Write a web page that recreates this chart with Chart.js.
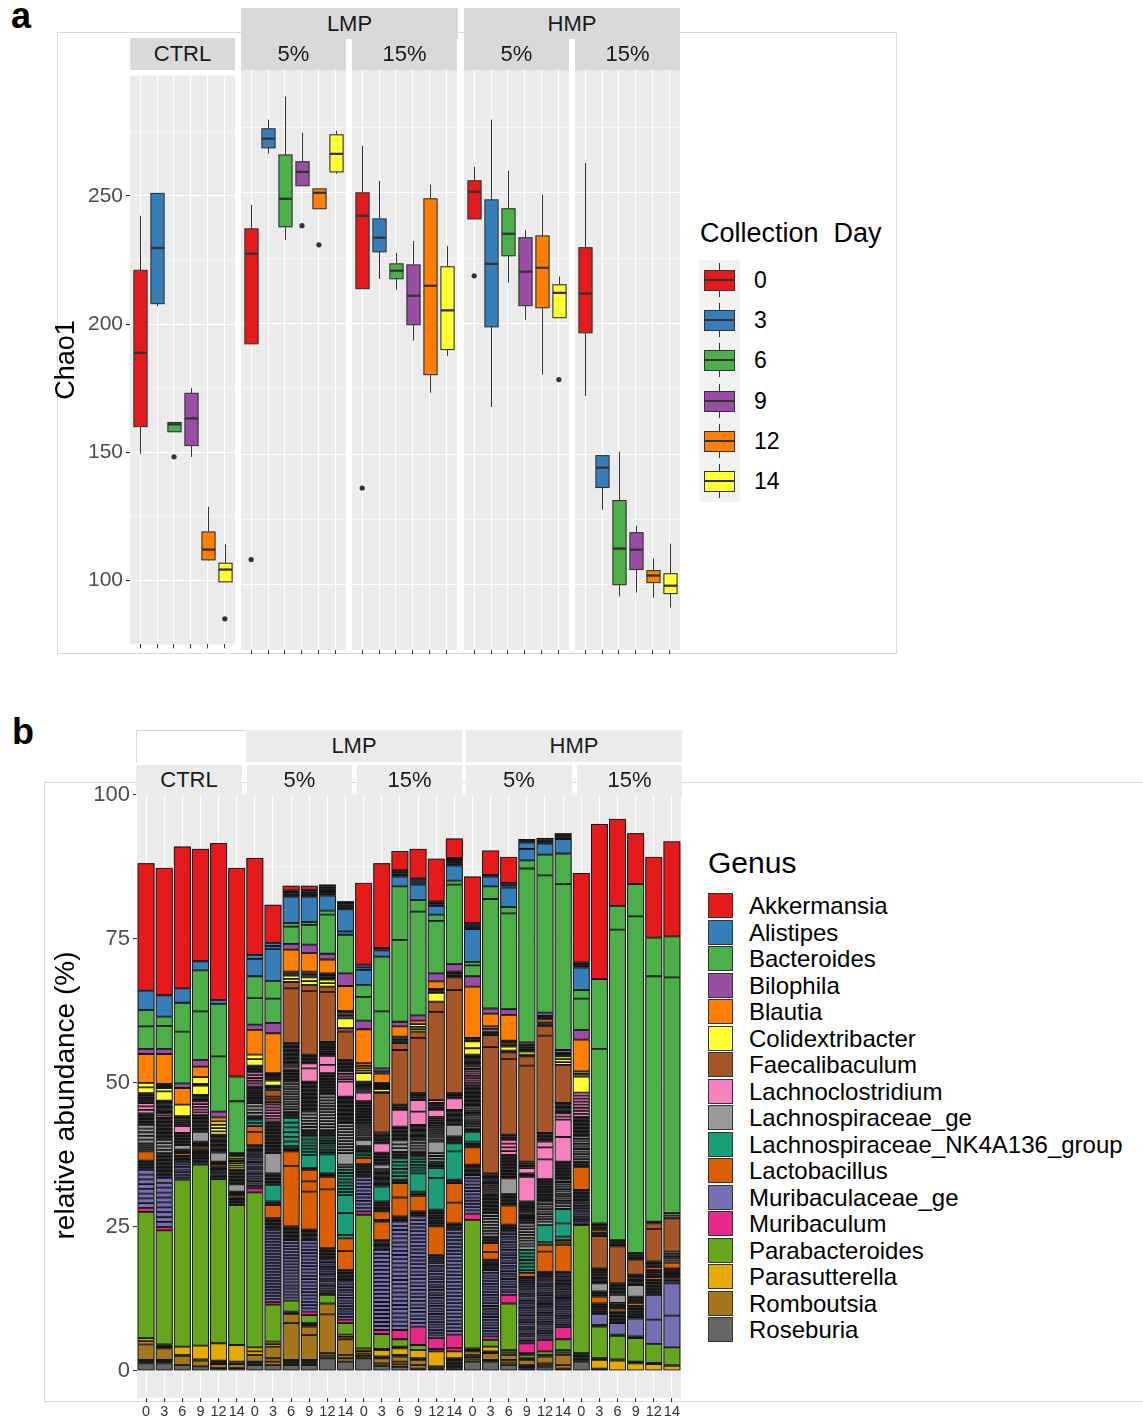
<!DOCTYPE html>
<html>
<head>
<meta charset="utf-8">
<script src="https://cdn.jsdelivr.net/npm/chart.js@4.4.1/dist/chart.umd.min.js"></script>
<style>
  body { margin: 0; background: #fff; width: 1143px; height: 1423px; position: relative; overflow: hidden;
         font-family: "Liberation Sans", Arial, sans-serif; }
  canvas { position: absolute; }
</style>
</head>
<body>
<script>
// ---------- data: panel a (Chao1 boxplots: [lower whisker, q1, median, q3, upper whisker]) ----------
const days = ['0', '3', '6', '9', '12', '14'];
const dayColors = ['#E41A1C', '#377EB8', '#4DAF4A', '#984EA3', '#FF7F00', '#FFFF33'];

const ctrlChao = [[149.4, 160, 188.8, 221, 242.3], [207, 208, 229.7, 251, 251], [158, 158, 160.9, 161.6, 161.6],
                  [148.2, 152.6, 163.2, 173, 175], [107.7, 108, 112, 118.9, 128.7], [99.4, 99.4, 104.2, 106.7, 114]];
const lmp5Chao = [[192.2, 192.2, 226.7, 236.2, 245.4], [265, 267.2, 270.7, 274.5, 278], [232, 237, 247.7, 264.5, 286.8],
                  [252.7, 252.7, 258, 261.9, 273], [243.9, 243.9, 250, 251.5, 251.5], [257.3, 258, 264.9, 272.2, 273.7]];
const lmp15Chao = [[213.3, 213.3, 241.2, 250, 268], [217, 227.4, 232.8, 240, 254.6], [212.9, 217.1, 220.2, 222.8, 227],
                   [193.4, 199.5, 210.6, 222.4, 231.6], [173.5, 180.4, 214.4, 247.7, 253.1], [187.6, 190, 205, 221.7, 229.7]];
const hmp5Chao = [[240, 240, 250.4, 254.6, 260], [168, 198.7, 222.8, 247.3, 278], [215.6, 225.9, 234.3, 243.9, 258.4],
                  [201.4, 206.8, 219.8, 232.8, 235.8], [180.4, 206, 221.3, 233.5, 249.2], [202.2, 202.2, 211.7, 214.8, 217.9]];
const hmp15Chao = [[172.3, 196.4, 211.4, 229, 261.5], [128.7, 137.2, 144.8, 149.4, 149.4], [95.5, 100, 113.8, 132.2, 150.9],
                   [97, 105.8, 113.4, 119.9, 122.6], [95, 100.8, 103.5, 105.4, 110], [91.2, 96.6, 99.6, 104.2, 115.7]];
// outliers: [day index, value]
const ctrlOut = [[2, 148.2], [5, 85]];
const lmp5Out = [[0, 109.6], [3, 237.4], [4, 230.1]];
const lmp15Out = [[0, 137]];
const hmp5Out = [[0, 218.2], [5, 178.5]];
const hmp15Out = [];
const chaoTicks = [100, 125, 150, 175, 200, 225, 250, 275];

// ---------- data: panel b (relative abundance, stacked) ----------
const genera = ['Akkermansia', 'Alistipes', 'Bacteroides', 'Bilophila', 'Blautia', 'Colidextribacter', 'Faecalibaculum',
  'Lachnoclostridium', 'Lachnospiraceae_ge', 'Lachnospiraceae_NK4A136_group', 'Lactobacillus', 'Muribaculaceae_ge',
  'Muribaculum', 'Parabacteroides', 'Parasutterella', 'Romboutsia', 'Roseburia'];
const genusColors = ['#E41A1C', '#377EB8', '#4DAF4A', '#984EA3', '#FF7F00', '#FFFF33', '#A65628', '#F781BF', '#999999',
  '#1B9E77', '#D95F02', '#7570B3', '#E7298A', '#66A61E', '#E6AB02', '#A6761D', '#666666'];
const abundTicks = [0, 12.5, 25, 37.5, 50, 62.5, 75, 87.5, 100];

// each bar, bottom to top: [genus index, upper edge in %, number of OTU stripes in that span]
const ctrlGenus = [
  [[16,1.3],[15,1.9,2],[15,4.6],[14,5.7,2],[13,27.6],[12,28.3],[11,34.9,8],[11,36.5,6],[10,38.1],[8,39.5,4],[8,42.7,5],[8,44.7,8],[7,46.5,3],[8,48.2,6],[5,49.2],[5,50.0],[4,55.0],[3,55.9],[2,59.8],[2,62.6],[1,66.0],[0,88.1]],
  [[16,1.3],[15,1.9,3],[15,3.9],[14,4.6,3],[13,24.4],[12,25.0],[11,33.5,10],[9,37.8,18],[8,40.1,4],[8,43.9,16],[7,44.7,2],[8,46.9,10],[5,48.5],[5,49.1],[8,49.8,2],[4,55.0],[3,55.9],[2,59.9],[2,61.5],[1,65.2],[0,87.3]],
  [[16,1.0],[15,2.6],[14,2.8,2],[14,4.2],[13,33.2],[11,33.6,2],[11,36.3,6],[11,37.3,4],[10,37.8],[8,38.4,3],[8,39.2],[8,41.3,8],[7,42.5],[8,44.2,5],[5,46.2],[4,49.1],[3,49.9],[2,58.9],[2,63.9],[1,66.4],[0,91.0]],
  [[16,0.8],[15,1.8],[14,2.0,1],[14,4.4],[13,35.8],[11,37.8,6],[11,38.6,4],[10,39.0],[8,39.8,4],[8,41.5],[8,44.4,12],[7,46.8,5],[8,47.9,5],[5,49.5],[5,49.8,1],[5,51.0],[4,52.8],[3,54.0],[2,62.4],[2,69.5],[1,71.1],[0,90.6]],
  [[16,0.5],[15,1.2],[15,1.8,2],[14,4.8],[13,33.3],[11,34.6,4],[11,35.5,4],[10,35.9],[8,36.3,2],[8,37.9],[8,41.0,14],[5,43.3,4],[4,44.0],[3,45.0],[2,54.6],[2,63.7],[1,64.4],[0,91.6]],
  [[16,0.5],[15,1.2],[15,1.6,1],[14,4.5],[13,28.8],[11,29.6,3],[10,30.1,2],[10,30.5],[8,31.1,3],[8,32.4],[8,34.9,10],[5,37.2,6],[3,37.8,2],[2,46.8],[2,51.1],[0,87.3]]
];
const lmp5Genus = [
  [[16,1.0],[15,1.6,2],[15,2.8],[14,3.4,1],[14,4.1],[13,31.0],[12,31.7],[11,37.5,14],[11,39.2,8],[10,41.5],[10,42.5],[9,43.6,2],[8,44.2,2],[8,46.5,4],[8,49.4,10],[7,51.8,5],[8,53.0,4],[5,54.1],[5,54.9,1],[4,59.2],[3,60.1],[2,64.7],[2,68.5],[1,71.5],[1,72.2,1],[0,89.0]],
  [[16,1.0],[15,2.2,2],[15,4.2],[14,5.1,2],[13,11.5],[12,12.0],[11,24.5,24],[11,26.5,8],[10,28.8],[9,29.4,2],[9,32.3],[8,34.3,8],[8,37.8],[8,43.3,22],[7,46.2,6],[6,47.6,3],[6,48.8],[5,49.5,3],[5,50.4],[4,51.7,4],[4,58.6],[3,60.4],[2,64.6],[2,67.7],[1,73.2],[1,74.3,2],[0,80.9]],
  [[16,1.0],[15,1.9,3],[15,8.3],[15,9.9],[13,10.3,2],[13,12.2],[11,22.7,20],[11,25.1,10],[10,35.6],[10,38.1],[9,39.0,4],[9,43.9,6],[8,45.0,4],[8,50.2,12],[7,52.3,8],[7,53.4,3],[8,56.9,15],[6,66.4],[6,67.5],[5,68.6,2],[8,69.3,2],[4,73.1],[3,74.1],[2,77.1],[2,77.7],[1,82.3],[1,83.4,4],[0,84.2]],
  [[16,1.0],[15,1.9,3],[15,6.2],[15,7.7],[13,8.3,2],[13,9.7],[12,10.3],[11,22.7,22],[11,24.5,8],[10,31.1],[10,32.9],[10,34.9],[9,35.2,1],[9,37.5],[9,40.7,6],[8,41.8,4],[8,45.0,6],[8,50.2,22],[7,52.5],[7,53.4],[8,54.9,6],[6,65.9],[6,67.0],[5,68.3,2],[8,69.3,3],[4,72.5],[3,74.0],[2,77.4],[2,77.9],[1,82.3],[1,83.5,4],[0,84.2]],
  [[16,2.2],[15,3.1,2],[15,9.8],[15,11.7],[13,13.2],[12,13.5,1],[11,19.3,14],[11,21.3,8],[10,31.5],[10,33.7],[9,34.3,2],[9,37.6],[9,40.7,8],[8,41.8,4],[8,48.0,12],[8,51.7,14],[7,53.1],[7,54.7],[8,57.1,8],[6,65.8],[6,66.7],[5,67.9,2],[8,69.0,4],[4,71.4],[3,72.4],[2,79.2],[2,79.9],[1,82.5],[1,84.4,6]],
  [[16,1.6],[15,2.8,2],[15,5.5],[14,6.3,2],[13,8.3],[12,8.9,1],[11,15.5,14],[11,17.5,8],[10,20.8],[10,23.0],[9,23.6,1],[9,27.4],[9,30.5],[9,34.9,8],[8,35.8,2],[8,37.8],[8,43.0,10],[8,47.6,20],[7,50.2],[7,52.0,4],[8,54.0,8],[6,58.9],[6,59.5],[5,61.2],[5,62.5,4],[4,66.8],[3,69.0],[2,75.7],[1,76.3,1],[1,80.1],[1,81.5,5]]
];
const lmp15Genus = [
  [[16,2.2],[15,3.0,2],[15,3.9,2],[13,27.1],[12,27.7],[11,33.7,10],[11,35.9,8],[10,37.0],[9,37.9,2],[8,39.0,4],[8,40.1],[8,43.0,8],[8,46.8,14],[7,48.3],[8,50.2,10],[5,51.7],[5,52.5,2],[4,53.4,2],[4,59.3],[3,60.8],[2,64.9],[2,67.0],[1,69.6],[1,70.5,2],[0,84.7]],
  [[16,0.9],[15,1.3,1],[15,2.2],[14,2.5,1],[14,3.6],[13,3.8,1],[13,6.4],[12,7.1],[11,21.0,20],[11,22.7,8],[10,25.9],[10,26.2,1],[10,27.7],[9,29.4,6],[9,32.0],[8,35.0,14],[8,35.8],[8,37.9,8],[7,39.5],[7,40.4,3],[6,41.4,3],[6,48.2],[5,48.4,1],[5,48.9],[4,50.0,6],[4,51.6],[3,52.0,2],[3,52.5],[2,62.4],[2,71.9],[1,73.0],[0,73.4,1],[0,88.1]],
  [[16,0.7],[15,1.6,2],[15,2.5],[14,2.8,1],[14,3.9],[13,4.2,1],[13,5.5],[12,7.1],[11,25.9,26],[11,26.8,3],[10,30.1],[10,32.6],[9,33.2,2],[9,36.9,6],[8,38.0,4],[8,40.0,3],[8,42.4,10],[7,45.3],[6,46.2,3],[6,55.7],[6,56.9],[5,57.4,2],[5,57.7],[8,58.0,2],[4,59.8],[3,60.6],[2,74.8],[2,84.1],[1,85.8],[1,86.9,4],[0,90.2]],
  [[16,0.4],[15,1.0,1],[15,1.9],[14,2.2,1],[14,3.6],[13,4.5],[12,7.7],[11,26.8,30],[11,27.7,3],[10,30.4],[9,31.1,2],[9,34.3],[9,37.2,6],[8,38.1,3],[8,40.1,4],[8,42.7,12],[7,45.0],[7,47.0],[7,48.2,4],[6,57.8],[6,58.9],[5,59.7,2],[5,60.2],[4,60.8,1],[3,61.7],[2,79.7],[2,81.7],[1,84.4],[1,85.5,3],[0,90.6]],
  [[16,0.4],[14,0.8,2],[14,3.4],[12,3.8,1],[12,5.7],[11,18.7,28],[11,20.1,4],[10,25.1],[10,28.0,10],[9,33.5],[9,35.2],[9,36.3,3],[8,37.8,3],[8,39.8],[8,44.1,12],[7,45.3],[7,46.5,4],[7,47.0],[6,62.3],[6,64.1],[5,65.6],[4,66.3,3],[4,67.6],[3,69.0],[2,78.1],[2,79.2],[1,80.7],[1,81.5,3],[0,88.9]],
  [[16,0.4],[15,1.9,6],[14,2.2],[14,3.4],[12,4.0,1],[12,6.3],[11,24.5,30],[11,25.6,4],[10,29.2],[10,32.6],[9,33.2,2],[9,38.1],[9,39.5],[8,40.7,4],[8,42.7],[8,45.3,12],[7,47.3],[8,48.2,3],[6,66.1],[6,68.3],[4,69.3,4],[3,70.6],[2,84.4],[2,85.1],[1,87.7],[1,89.0,4],[0,92.4]]
];
const hmp5Genus = [
  [[16,1.6],[15,2.8,3],[15,3.4],[13,3.9,2],[13,26.2],[12,27.3],[11,34.0,12],[11,35.8,8],[10,38.8],[10,39.4,2],[9,39.8,1],[9,41.5],[8,42.1,2],[8,45.9,10],[8,49.6,16],[7,52.8,8],[8,54.9,10],[5,56.0],[5,57.2],[4,57.8,2],[4,66.7],[3,68.5],[2,70.4],[2,71.0],[1,76.7],[1,77.7,3],[0,85.8]],
  [[16,1.6],[15,1.9,1],[15,3.1],[14,3.4,1],[14,4.2],[13,5.4],[12,6.0],[11,17.5,24],[11,19.3,6],[10,20.6],[10,22.2],[8,23.3,4],[8,27.4,8],[8,30.8,14],[7,32.6,5],[8,34.3,8],[6,56.2],[6,58.3],[8,58.6,1],[5,58.9],[8,59.8,2],[4,62.0],[3,62.9],[2,81.9],[2,84.1],[1,85.8],[1,86.1,1],[0,90.3]],
  [[16,1.0],[15,1.9,2],[15,2.8],[13,3.6,2],[13,11.7],[12,13.2],[11,24.2,24],[11,25.4,4],[10,28.7],[8,30.7,8],[8,33.4],[8,37.5,16],[7,40.1,4],[8,41.0,3],[6,54.1],[6,55.3],[5,55.6,1],[5,56.3],[4,57.3,3],[4,61.8],[3,62.8],[2,79.4],[2,80.5],[1,83.9],[1,84.7,2],[0,89.2]],
  [[16,0.4],[15,1.0,2],[15,1.9],[13,2.2,1],[13,2.8],[12,3.1,1],[12,4.8],[11,14.6,24],[11,16.3,5],[10,17.0],[9,17.5,1],[9,21.0,6],[8,21.6,1],[8,25.6,8],[8,29.4,12],[7,33.7],[7,34.3,2],[7,35.2],[8,36.3,3],[6,53.0],[6,54.6],[5,54.9,1],[5,55.4],[3,56.6,4],[3,57.0],[2,87.2],[2,88.6],[1,90.6],[1,91.7],[1,92.3,2]],
  [[16,0.6],[15,1.3,2],[15,2.5],[13,2.8,1],[13,3.4],[12,5.4],[11,15.5,26],[11,17.2,5],[10,20.7],[10,21.9],[9,22.4,1],[9,25.3],[8,25.9,1],[8,29.4,8],[8,33.3,14],[7,36.7],[7,38.8],[7,39.8],[8,41.3,6],[6,58.2],[6,59.9],[8,60.5,3],[4,61.0],[8,61.6,2],[3,62.2],[2,86.0],[2,89.6],[1,91.5],[1,92.5,4]],
  [[16,0.4],[15,1.0,1],[15,2.8],[13,3.6,2],[13,5.5],[12,7.6],[11,14.6,18],[11,17.2,8],[10,21.9],[10,22.7,2],[9,23.3,1],[9,25.6],[9,28.1],[8,29.1,2],[8,33.2,10],[8,36.3,12],[7,40.6],[7,43.6],[7,44.7,2],[8,46.5,8],[6,53.1],[5,54.6,3],[8,55.2,3],[3,55.7],[2,84.5],[2,89.8],[1,92.3],[1,93.3,4]]
];
const hmp15Genus = [
  [[16,1.6],[15,3.1,6],[13,25.3],[12,25.6,1],[11,29.4,10],[11,31.4,8],[10,35.4],[9,36.3,3],[8,37.2,2],[8,40.7,8],[8,44.1,14],[7,48.3,8],[5,51.1],[8,52.0,2],[4,57.5],[3,59.2],[2,64.6],[2,66.1],[1,70.0],[1,70.9,3],[0,86.4]],
  [[16,0.4],[14,1.9],[13,2.2,1],[13,7.7],[11,8.0,1],[11,9.9],[11,11.7,6],[10,12.9],[8,13.8,3],[8,15.2],[8,16.6,6],[7,16.9],[8,17.8,3],[6,23.4],[8,24.0,2],[10,24.5],[8,25.6,4],[2,55.9],[2,68.0],[0,94.9]],
  [[14,1.8],[13,2.0,1],[13,6.1],[11,6.3,1],[11,8.3],[11,10.3,8],[10,10.8],[8,11.8,3],[8,13.2],[8,15.2,8],[6,21.6],[8,22.7,4],[2,76.6],[2,80.7],[0,95.8]],
  [[14,1.3],[13,1.6,1],[13,5.7],[11,6.0,1],[11,9.1],[11,11.3,8],[10,11.8],[8,12.9,4],[8,14.9],[8,16.7,8],[6,19.3],[8,20.2,3],[3,20.5],[2,78.9],[2,84.5],[0,93.3]],
  [[14,1.2],[13,1.4,1],[13,4.7],[11,8.9],[11,13.2],[8,15.8,10],[10,16.3],[8,17.5,4],[10,18.0],[8,19.0,4],[6,24.6],[6,25.6],[8,25.9,1],[2,68.5],[2,75.2],[0,89.2]],
  [[14,0.9],[13,1.0,1],[13,4.1],[11,9.6],[11,15.2],[8,17.8,8],[10,18.8],[8,20.7,5],[6,26.5],[8,27.4,2],[2,68.3],[2,75.4],[0,91.9]]
];

// ---------- helpers ----------
const family = '"Liberation Sans", Arial, sans-serif';
Chart.defaults.font.family = family;

function div(left, top, w, h, css, text) {
  const d = document.createElement('div');
  d.style.cssText = `position:absolute;left:${left}px;top:${top}px;width:${w}px;height:${h}px;box-sizing:border-box;${css || ''}`;
  if (text !== undefined) d.textContent = text;
  document.body.appendChild(d);
  return d;
}
function addCanvas(left, top, w, h) {
  const c = document.createElement('canvas');
  c.width = w; c.height = h;
  c.style.left = left + 'px'; c.style.top = top + 'px';
  c.style.width = w + 'px'; c.style.height = h + 'px';
  document.body.appendChild(c);
  return c;
}

const panelBg = {
  id: 'panelBg',
  beforeDraw(chart) {
    const { ctx, chartArea: a } = chart;
    ctx.save();
    ctx.fillStyle = '#EBEBEB';
    ctx.fillRect(a.left, a.top, a.right - a.left, a.bottom - a.top);
    ctx.restore();
  }
};

// dark backing under each stacked segment, so runs of tiny OTU slices read as solid outline black
const barBacking = {
  id: 'barBacking',
  beforeDatasetsDraw(chart) {
    const ctx = chart.ctx;
    ctx.save();
    ctx.fillStyle = '#141414';
    chart.data.datasets.forEach((ds, k) => {
      chart.getDatasetMeta(k).data.forEach((el, i) => {
        if (ds.data[i] == null) return;
        const { x, y, base, width } = el.getProps(['x', 'y', 'base', 'width'], true);
        ctx.fillRect(x - width / 2, Math.min(y, base), width, Math.abs(base - y));
      });
    });
    ctx.restore();
  }
};

function boxPlugin(stats) {
  return {
    id: 'boxes',
    beforeDatasetsDraw(chart) {
      const { ctx, scales: { x, y } } = chart;
      const half = x.getPixelForValue(0.39) - x.getPixelForValue(0);
      ctx.save();
      ctx.strokeStyle = '#333';
      stats.forEach(([lo, q1, med, q3, hi], i) => {
        const cx = Math.round(x.getPixelForValue(i)) + 0.5;
        const top = y.getPixelForValue(q3), bot = y.getPixelForValue(q1);
        ctx.lineWidth = 1;
        ctx.beginPath();
        ctx.moveTo(cx, y.getPixelForValue(hi)); ctx.lineTo(cx, top);
        ctx.moveTo(cx, bot); ctx.lineTo(cx, y.getPixelForValue(lo));
        ctx.stroke();
        ctx.fillStyle = dayColors[i];
        ctx.fillRect(cx - half, top, 2 * half, bot - top);
        ctx.lineWidth = 1.1;
        ctx.strokeRect(cx - half, top, 2 * half, bot - top);
        const m = y.getPixelForValue(med);
        ctx.lineWidth = 2.3;
        ctx.beginPath(); ctx.moveTo(cx - half, m); ctx.lineTo(cx + half, m); ctx.stroke();
      });
      ctx.restore();
    }
  };
}

// ---------- frames (light outline boxes) ----------
div(57, 32, 840, 622, 'border:1px solid #DADADA;');
div(44, 782, 1120, 620, 'border:1px solid #DADADA;');

// ---------- panel a ----------
const facetX = [130, 241, 352, 464, 575];
const chaoSets = [ctrlChao, lmp5Chao, lmp15Chao, hmp5Chao, hmp15Chao];
const outSets = [ctrlOut, lmp5Out, lmp15Out, hmp5Out, hmp15Out];
const isMajor = v => v % 50 === 0;

chaoSets.forEach((stats, f) => {
  const first = f === 0;
  const left = first ? 40 : facetX[f];
  const cv = addCanvas(left, 60, first ? 195 : 105, 600);
  new Chart(cv, {
    type: 'scatter',
    data: {
      datasets: [{
        data: outSets[f].map(([d, v]) => ({ x: d, y: v })),
        pointRadius: 2.6, pointHoverRadius: 2.6,
        pointBackgroundColor: '#333', pointBorderWidth: 0
      }]
    },
    options: {
      responsive: false, animation: false, events: [],
      layout: { padding: { top: 10 }, autoPadding: false },
      plugins: { legend: { display: false }, tooltip: { enabled: false } },
      scales: {
        x: {
          type: 'linear', min: -0.6, max: 5.6,
          afterBuildTicks: s => { s.ticks = days.map((d, i) => ({ value: i })); },
          afterFit: s => { s.height = 10; },
          ticks: { display: false },
          grid: { color: '#fff', lineWidth: 1.1, tickLength: 4, tickColor: '#333', tickWidth: 1 },
          border: { display: false }
        },
        y: {
          min: 75, max: 297,
          afterBuildTicks: s => { s.ticks = chaoTicks.map(v => ({ value: v })); },
          afterFit: s => { s.width = first ? 90 : 0; },
          ticks: { display: first, font: { size: 21 }, color: '#4D4D4D', padding: 3,
                   callback: v => isMajor(v) ? String(v) : '' },
          grid: {
            color: c => isMajor(c.tick.value) ? '#fff' : 'rgba(255,255,255,0.8)',
            lineWidth: c => isMajor(c.tick.value) ? 1.1 : 0.6,
            drawTicks: first, tickLength: 4,
            tickColor: c => isMajor(c.tick.value) ? '#333' : 'rgba(0,0,0,0)'
          },
          border: { display: false },
          title: { display: first, text: 'Chao1', font: { size: 27 }, color: '#000', padding: { top: 10, bottom: 0 } }
        }
      }
    },
    plugins: [panelBg, boxPlugin(stats)]
  });
});

// ---------- panel b ----------
const allBars = [...ctrlGenus, ...lmp5Genus, ...lmp15Genus, ...hmp5Genus, ...hmp15Genus];
const segs = allBars.map(bar => {
  let prev = 0;
  const out = [];
  bar.forEach(([g, top, n]) => {
    const k = n || 1;
    for (let i = 0; i < k; i++) out.push([g, (top - prev) / k]);
    prev = top;
  });
  return out;
});
const slots = Math.max(...segs.map(s => s.length));
const barDatasets = [];
for (let k = 0; k < slots; k++) {
  barDatasets.push({
    data: segs.map(s => s[k] ? s[k][1] : null),
    backgroundColor: segs.map(s => s[k] ? genusColors[s[k][0]] : 'rgba(0,0,0,0)'),
    borderColor: '#141414', borderWidth: 0.9, borderSkipped: false,
    barPercentage: 0.93, categoryPercentage: 1, inflateAmount: 0
  });
}
const barLabels = [];
for (let g = 0; g < 5; g++) days.forEach(d => barLabels.push(d));

const cvB = addCanvas(41, 770, 640, 653);
new Chart(cvB, {
  type: 'bar',
  data: { labels: barLabels, datasets: barDatasets },
  options: {
    responsive: false, animation: false, events: [],
    layout: { padding: { top: 23 }, autoPadding: false },
    plugins: { legend: { display: false }, tooltip: { enabled: false } },
    scales: {
      x: {
        stacked: true,
        afterFit: s => { s.height = 25; },
        ticks: { font: { size: 14.5 }, color: '#333', padding: 1, autoSkip: false, maxRotation: 0 },
        grid: { offset: false, color: '#fff', lineWidth: 1.1, tickLength: 4, tickColor: '#333' },
        border: { display: false }
      },
      y: {
        stacked: true, min: -4.7, max: 100.3,
        afterBuildTicks: s => { s.ticks = abundTicks.map(v => ({ value: v })); },
        afterFit: s => { s.width = 96; },
        ticks: { font: { size: 22 }, color: '#4D4D4D', padding: 3,
                 callback: v => v % 25 === 0 ? String(v) : '' },
        grid: {
          color: c => c.tick.value % 25 === 0 ? '#fff' : 'rgba(255,255,255,0.8)',
          lineWidth: c => c.tick.value % 25 === 0 ? 1.1 : 0.6,
          tickLength: 4,
          tickColor: c => c.tick.value % 25 === 0 ? '#333' : 'rgba(0,0,0,0)'
        },
        border: { display: false },
        title: { display: true, text: 'relative abundance (%)', font: { size: 28 }, color: '#000',
                 padding: { top: 8, bottom: 0 } }
      }
    }
  },
  plugins: [panelBg, barBacking]
});

// ---------- strips ----------
const stripA = 'display:flex;align-items:center;justify-content:center;font-size:22px;color:#1a1a1a;background:#D9D9D9;';
div(241, 8, 217, 31, stripA, 'LMP');
div(464, 8, 216, 31, stripA, 'HMP');
['CTRL', '5%', '15%', '5%', '15%'].forEach((t, i) => div(facetX[i], 38, 105, 32, stripA, t));

const stripB = 'display:flex;align-items:center;justify-content:center;font-size:22px;color:#1a1a1a;background:#EBEBEB;';
div(136, 730, 110, 33, 'background:#fff;border-left:1px solid #DADADA;border-top:1px solid #DADADA;');
div(246, 730, 216, 32, stripB, 'LMP');
div(466, 730, 216, 32, stripB, 'HMP');
[[136, 106, 'CTRL'], [247, 105, '5%'], [357, 105, '15%'], [466, 106, '5%'], [577, 105, '15%']]
  .forEach(([l, w, t]) => div(l, 765, w, 30, stripB, t));

// ---------- panel letters ----------
div(11, -2, 40, 40, 'font-size:36px;font-weight:bold;line-height:36px;', 'a');
div(12, 714, 40, 40, 'font-size:36px;font-weight:bold;line-height:36px;', 'b');

// ---------- legend a ----------
div(700, 215, 240, 36, 'font-size:27px;line-height:36px;white-space:pre;color:#000;', 'Collection  Day');
div(699, 260, 41, 242, 'background:#F2F2F2;');
days.forEach((d, i) => {
  const cy = 280 + 40.2 * i;
  div(719, cy - 17, 1, 34, 'background:#333;');
  div(704, cy - 10, 31, 21, `background:${dayColors[i]};border:1px solid #333;`);
  div(704, cy - 1, 31, 2, 'background:#333;');
  div(754, cy - 15, 60, 30, 'font-size:23px;line-height:30px;color:#000;', d);
});

// ---------- legend b ----------
div(708, 843, 200, 40, 'font-size:30px;line-height:40px;color:#000;', 'Genus');
genera.forEach((g, i) => {
  const top = 893 + 26.5 * i;
  div(708, top, 25, 25, `background:${genusColors[i]};border:1px solid #333;`);
  div(749, top - 2, 420, 29, 'font-size:24px;line-height:29px;color:#000;white-space:nowrap;', g);
});
</script>
</body>
</html>
